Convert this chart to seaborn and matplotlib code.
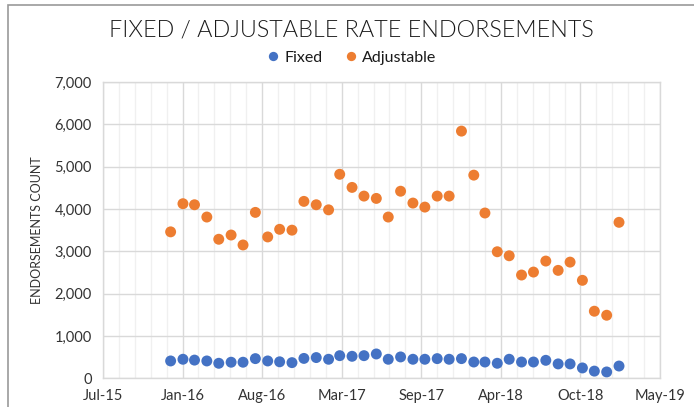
# =========================================================
# FIXED / ADJUSTABLE RATE ENDORSEMENTS
# =========================================================

import pandas as pd
import numpy as np
import matplotlib.pyplot as plt
import matplotlib.dates as mdates
from matplotlib.patches import Rectangle
import seaborn as sns

# =========================================================
# DATA
# =========================================================

months = pd.date_range("2015-12-31", "2019-01-31", freq="ME")

fixed = [
    410, 450, 430, 410, 355, 380, 380, 465, 410, 390,
    370, 470, 490, 450, 535, 520, 535, 575, 450, 505,
    450, 450, 465, 450, 465, 385, 385, 355, 450, 385,
    385, 425, 340, 340, 245, 170, 150, 290,
]

adjustable = [
    3460, 4125, 4100, 3810, 3285, 3385, 3150, 3920, 3340, 3520,
    3500, 4180, 4100, 3980, 4820, 4510, 4305, 4250, 3810, 4420,
    4140, 4045, 4305, 4305, 5840, 4800, 3905, 2990, 2895, 2440,
    2510, 2770, 2550, 2745, 2315, 1585, 1490, 3685,
]

series_names = ["Fixed", "Adjustable"]
colors = ["#4472C4", "#ED7D31"]

df = pd.DataFrame({
    "date": list(months) * 2,
    "count": fixed + adjustable,
    "series": [series_names[0]] * len(fixed) + [series_names[1]] * len(adjustable),
})

# =========================================================
# STYLE
# =========================================================

sns.set_style("white")
plt.rcParams["font.family"] = ["Lato", "DejaVu Sans"]

fig = plt.figure(figsize=(6.94, 4.07), dpi=100)
ax = fig.add_axes([0.1484, 0.0705, 0.8026, 0.728])

# =========================================================
# PLOT
# =========================================================

sns.scatterplot(
    data=df,
    x="date",
    y="count",
    hue="series",
    palette=colors,
    s=62,
    linewidth=0,
    ax=ax,
)

# excel style date axis: ticks every 200 days
start = mdates.date2num(pd.Timestamp("2015-07-14"))
ax.set_xlim(start, start + 1400)
ax.set_xticks(start + np.arange(0, 1401, 200))
ax.set_xticks(start + np.arange(0, 1401, 40), minor=True)
ax.xaxis.set_major_formatter(mdates.DateFormatter("%b-%y"))

ax.set_ylim(0, 7000)
ax.set_yticks(np.arange(0, 7001, 1000))
ax.yaxis.set_major_formatter(plt.FuncFormatter(lambda v, p: f"{int(v):,}"))

ax.grid(True, which="major", color="#D9D9D9", linewidth=1.0)
ax.grid(True, which="minor", axis="x", color="#F0F0F0", linewidth=1.0)
ax.set_axisbelow(True)

for sp in ax.spines.values():
    sp.set_color("#D9D9D9")
    sp.set_linewidth(1.0)

ax.tick_params(axis="both", which="both", length=0, labelsize=10.5,
               labelcolor="#333333", pad=8)

ax.set_xlabel("")
ax.set_ylabel("ENDORSEMENTS COUNT", fontsize=9, color="#333333", labelpad=8)

# =========================================================
# TITLE / LEGEND / BORDER
# =========================================================

fig.text(0.506, 0.926, "FIXED / ADJUSTABLE RATE ENDORSEMENTS",
         ha="center", va="center", fontsize=16.8, fontweight=300,
         color="#1a1a1a")

handles, labels = ax.get_legend_handles_labels()
ax.legend_.remove()
fig.legend(handles, labels, loc="center", bbox_to_anchor=(0.507, 0.858),
           ncol=2, frameon=False, fontsize=11.5, handlelength=0.7,
           handletextpad=0.35, columnspacing=1.4, markerscale=0.85,
           labelcolor="#1a1a1a")

fig.add_artist(Rectangle((8 / 694, -0.2), 1.2, 1.2 - 5 / 407,
                         transform=fig.transFigure, fill=False,
                         edgecolor="#999999", linewidth=1.2))

plt.savefig("out.png", dpi=100)
